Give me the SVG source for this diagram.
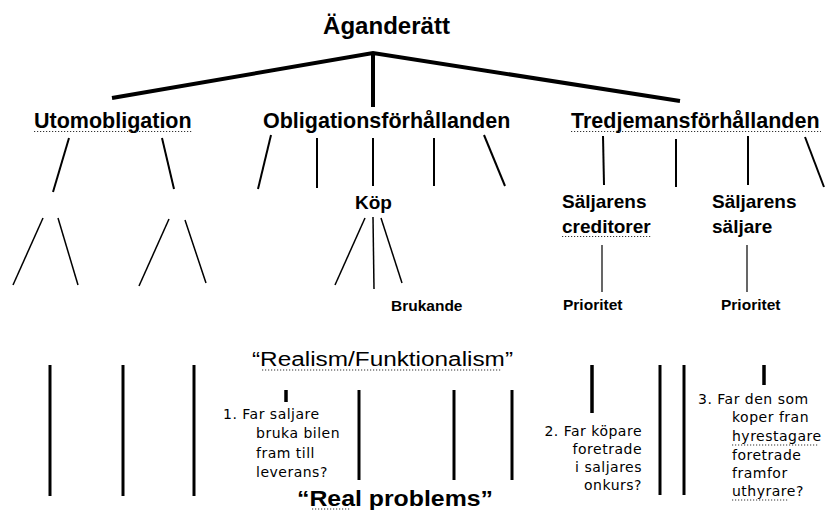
<svg xmlns="http://www.w3.org/2000/svg" width="825" height="510" viewBox="0 0 825 510">
<style>
.b{font-family:"Liberation Sans",Arial,sans-serif;font-weight:bold;fill:#000}
.h1{font-size:23px}
.h2{font-size:21.5px}
.h3{font-size:19px}
.h4{font-size:15.5px}
.r{font-family:"Liberation Sans",Arial,sans-serif;font-size:20px;fill:#000}
.q{font-family:"DejaVu Sans",Verdana,sans-serif;font-size:14px;letter-spacing:0.5px;fill:#000}
.dot{stroke:#333;stroke-width:1.2;stroke-dasharray:1.2 1.8;fill:none}
.c{stroke:#000;fill:none;stroke-linecap:butt}
.w4{stroke-width:4}
.w2{stroke-width:2}
.w15{stroke-width:1.5}
.w12{stroke-width:1.2}
.w3{stroke-width:3}
</style>
<rect width="825" height="510" fill="#fff"/>
<g id="connectors">
  <path class="c w4" d="M112,98 L373,53 L680,101 M373,53 L373,107"/>
  <g class="c w2">
    <line x1="69" y1="138" x2="53" y2="192"/>
    <line x1="162" y1="138" x2="174" y2="189"/>
    <line x1="271" y1="135" x2="258" y2="189"/>
    <line x1="317" y1="138" x2="317" y2="188"/>
    <line x1="373" y1="138" x2="373" y2="186"/>
    <line x1="434" y1="138" x2="434" y2="186"/>
    <line x1="484" y1="135" x2="505" y2="186"/>
    <line x1="603" y1="136" x2="604" y2="185"/>
    <line x1="676" y1="139" x2="676" y2="187"/>
    <line x1="748" y1="136" x2="748" y2="185"/>
    <line x1="805" y1="137" x2="824" y2="187"/>
  </g>
  <g class="c w15">
    <line x1="43" y1="218" x2="13" y2="285"/>
    <line x1="58" y1="218" x2="78" y2="285"/>
    <line x1="169" y1="219" x2="139" y2="286"/>
    <line x1="185" y1="220" x2="206" y2="283"/>
    <line x1="365" y1="218" x2="335" y2="285"/>
    <line x1="373" y1="217" x2="374" y2="289"/>
    <line x1="381" y1="218" x2="402" y2="283"/>
  </g>
  <g class="c w12">
    <line x1="602" y1="245" x2="602" y2="292"/>
    <line x1="747" y1="245" x2="747" y2="292"/>
  </g>
  <g class="c w3">
    <line x1="50" y1="365" x2="50" y2="496"/>
    <line x1="123" y1="365" x2="123" y2="496"/>
    <line x1="194" y1="365" x2="194" y2="496"/>
    <line x1="286" y1="390" x2="286" y2="402" stroke-width="3.5"/>
    <line x1="359" y1="390" x2="359" y2="480"/>
    <line x1="454" y1="390" x2="454" y2="480"/>
    <line x1="512" y1="390" x2="512" y2="480"/>
    <line x1="592" y1="365" x2="592" y2="413" stroke-width="3.5"/>
    <line x1="660" y1="365" x2="660" y2="495"/>
    <line x1="684" y1="365" x2="684" y2="495"/>
    <line x1="764" y1="365" x2="764" y2="385" stroke-width="3.5"/>
  </g>
</g>
<g id="agandeRatt"><text class="b h1" x="386.5" y="34" text-anchor="middle" textLength="127" lengthAdjust="spacingAndGlyphs">Äganderätt</text></g>
<g id="utomobligation"><text class="b h2" x="34" y="128">Utomobligation</text><line class="dot" x1="34" y1="131.5" x2="193" y2="131.5"/></g>
<g id="obligationsforhallanden"><text class="b h2" x="263" y="128">Obligationsförhållanden</text></g>
<g id="tredjemansforhallanden"><text class="b h2" x="571" y="128">Tredjemansförhållanden</text><line class="dot" x1="571" y1="131.5" x2="821" y2="131.5"/></g>
<g id="kop"><text class="b h3" x="355" y="209">Köp</text></g>
<g id="saljarensCreditorer"><text class="b h3" x="562" y="208">Säljarens</text><text class="b h3" x="562" y="233">creditorer</text><line class="dot" x1="562" y1="236.5" x2="651" y2="236.5"/></g>
<g id="saljarensSaljare"><text class="b h3" x="712" y="208">Säljarens</text><text class="b h3" x="712" y="233">säljare</text></g>
<g id="brukande"><text class="b h4" x="391" y="311">Brukande</text></g>
<g id="prioritet1"><text class="b h4" x="563" y="310">Prioritet</text></g>
<g id="prioritet2"><text class="b h4" x="721" y="310">Prioritet</text></g>
<g id="realism"><text class="r" x="252" y="366" textLength="261" lengthAdjust="spacingAndGlyphs">“Realism/Funktionalism”</text><line class="dot" x1="262" y1="370" x2="502" y2="370"/></g>
<g id="question1">
  <text class="q" x="223" y="419">1. Far saljare</text>
  <text class="q" x="256" y="438">bruka bilen</text>
  <text class="q" x="256" y="458">fram till</text>
  <text class="q" x="256" y="477">leverans?</text>
</g>
<g id="realProblems"><text class="b" font-size="22" x="297" y="506" textLength="196" lengthAdjust="spacingAndGlyphs">“Real problems”</text><line class="dot" x1="312" y1="509" x2="350" y2="509"/></g>
<g id="question2" text-anchor="end">
  <text class="q" x="642" y="436">2. Far köpare</text>
  <text class="q" x="642" y="454">foretrade</text>
  <text class="q" x="642" y="472">i saljares</text>
  <text class="q" x="642" y="490">onkurs?</text>
</g>
<g id="question3">
  <text class="q" x="698" y="404">3. Far den som</text>
  <text class="q" x="732" y="422">koper fran</text>
  <text class="q" x="732" y="441">hyrestagare</text>
  <line class="dot" x1="732" y1="445" x2="818" y2="445"/>
  <text class="q" x="732" y="460">foretrade</text>
  <text class="q" x="732" y="478">framfor</text>
  <text class="q" x="732" y="496">uthyrare?</text>
  <line class="dot" x1="732" y1="500" x2="788" y2="500"/>
</g>
</svg>
